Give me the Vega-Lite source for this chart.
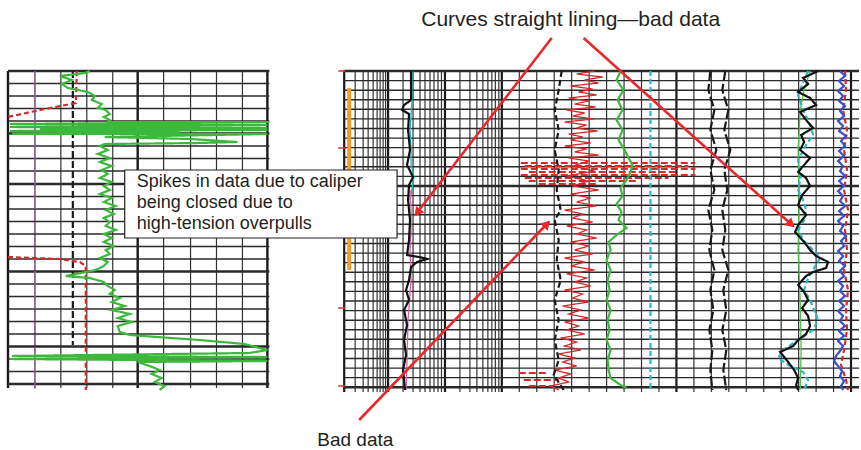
{
  "$schema": "https://vega.github.io/schema/vega-lite/v6.json",
  "width": 861,
  "height": 450,
  "padding": 0,
  "autosize": {"type": "fit", "contains": "padding"},
  "background": "white",
  "config": {"view": {"stroke": null}},
  "datasets": {
    "vlines": [
      {"panel": "L", "kind": "major", "x": 8}, {"panel": "L", "kind": "minor", "x": 35}, {"panel": "L", "kind": "minor", "x": 61}, {"panel": "L", "kind": "minor", "x": 87}, {"panel": "L", "kind": "minor", "x": 113}, {"panel": "L", "kind": "major", "x": 138}, {"panel": "L", "kind": "minor", "x": 164}, {"panel": "L", "kind": "minor", "x": 191}, {"panel": "L", "kind": "minor", "x": 217}, {"panel": "L", "kind": "minor", "x": 243}, {"panel": "L", "kind": "major", "x": 268},
      {"panel": "R", "kind": "major", "x": 345}, {"panel": "R", "kind": "minor", "x": 356}, {"panel": "R", "kind": "minor", "x": 364}, {"panel": "R", "kind": "minor", "x": 369}, {"panel": "R", "kind": "minor", "x": 374}, {"panel": "R", "kind": "minor", "x": 378}, {"panel": "R", "kind": "minor", "x": 381}, {"panel": "R", "kind": "minor", "x": 384}, {"panel": "R", "kind": "minor", "x": 386.5},
      {"panel": "R", "kind": "major", "x": 389}, {"panel": "R", "kind": "minor", "x": 404}, {"panel": "R", "kind": "minor", "x": 414}, {"panel": "R", "kind": "minor", "x": 421}, {"panel": "R", "kind": "minor", "x": 426}, {"panel": "R", "kind": "minor", "x": 431}, {"panel": "R", "kind": "minor", "x": 435}, {"panel": "R", "kind": "minor", "x": 439}, {"panel": "R", "kind": "minor", "x": 442.5},
      {"panel": "R", "kind": "major", "x": 446}, {"panel": "R", "kind": "minor", "x": 461}, {"panel": "R", "kind": "minor", "x": 471}, {"panel": "R", "kind": "minor", "x": 478}, {"panel": "R", "kind": "minor", "x": 484}, {"panel": "R", "kind": "minor", "x": 489}, {"panel": "R", "kind": "minor", "x": 493}, {"panel": "R", "kind": "minor", "x": 496.5}, {"panel": "R", "kind": "minor", "x": 500},
      {"panel": "R", "kind": "major", "x": 503}, {"panel": "R", "kind": "minor", "x": 520.5}, {"panel": "R", "kind": "minor", "x": 538}, {"panel": "R", "kind": "minor", "x": 555.5}, {"panel": "R", "kind": "minor", "x": 573}, {"panel": "R", "kind": "minor", "x": 590.5}, {"panel": "R", "kind": "minor", "x": 608}, {"panel": "R", "kind": "minor", "x": 625.5}, {"panel": "R", "kind": "minor", "x": 643}, {"panel": "R", "kind": "minor", "x": 660.5},
      {"panel": "R", "kind": "major", "x": 678}, {"panel": "R", "kind": "minor", "x": 695.5}, {"panel": "R", "kind": "minor", "x": 713}, {"panel": "R", "kind": "minor", "x": 730.5}, {"panel": "R", "kind": "minor", "x": 748}, {"panel": "R", "kind": "minor", "x": 765.5}, {"panel": "R", "kind": "minor", "x": 783}, {"panel": "R", "kind": "minor", "x": 800.5}, {"panel": "R", "kind": "minor", "x": 818}, {"panel": "R", "kind": "minor", "x": 835.5}, {"panel": "R", "kind": "major", "x": 853}
    ],
    "hlines": [
      {"panel": "L", "kind": "major", "y": 71}, {"panel": "L", "kind": "minor", "y": 83.5}, {"panel": "L", "kind": "minor", "y": 96}, {"panel": "L", "kind": "minor", "y": 108.5}, {"panel": "L", "kind": "minor", "y": 121}, {"panel": "L", "kind": "major", "y": 133.5}, {"panel": "L", "kind": "minor", "y": 146}, {"panel": "L", "kind": "minor", "y": 158.5}, {"panel": "L", "kind": "minor", "y": 171}, {"panel": "L", "kind": "major", "y": 184}, {"panel": "L", "kind": "minor", "y": 196.5}, {"panel": "L", "kind": "minor", "y": 209}, {"panel": "L", "kind": "minor", "y": 221.5}, {"panel": "L", "kind": "minor", "y": 234}, {"panel": "L", "kind": "minor", "y": 246.5}, {"panel": "L", "kind": "minor", "y": 259}, {"panel": "L", "kind": "major", "y": 271.5}, {"panel": "L", "kind": "minor", "y": 284}, {"panel": "L", "kind": "minor", "y": 296.5}, {"panel": "L", "kind": "minor", "y": 309}, {"panel": "L", "kind": "minor", "y": 321.5}, {"panel": "L", "kind": "minor", "y": 334}, {"panel": "L", "kind": "major", "y": 346.5}, {"panel": "L", "kind": "minor", "y": 359}, {"panel": "L", "kind": "minor", "y": 371.5}, {"panel": "L", "kind": "major", "y": 384},
      {"panel": "R", "kind": "major", "y": 71}, {"panel": "R", "kind": "minor", "y": 80.6}, {"panel": "R", "kind": "minor", "y": 90.2}, {"panel": "R", "kind": "minor", "y": 99.7}, {"panel": "R", "kind": "minor", "y": 109.3}, {"panel": "R", "kind": "minor", "y": 118.9}, {"panel": "R", "kind": "minor", "y": 128.5}, {"panel": "R", "kind": "minor", "y": 138.1}, {"panel": "R", "kind": "minor", "y": 147.6}, {"panel": "R", "kind": "minor", "y": 157.2}, {"panel": "R", "kind": "minor", "y": 166.8}, {"panel": "R", "kind": "minor", "y": 176.4}, {"panel": "R", "kind": "major", "y": 186}, {"panel": "R", "kind": "minor", "y": 195.6}, {"panel": "R", "kind": "minor", "y": 205.2}, {"panel": "R", "kind": "minor", "y": 214.7}, {"panel": "R", "kind": "minor", "y": 224.3}, {"panel": "R", "kind": "minor", "y": 233.9}, {"panel": "R", "kind": "minor", "y": 243.5}, {"panel": "R", "kind": "minor", "y": 253.1}, {"panel": "R", "kind": "minor", "y": 262.6}, {"panel": "R", "kind": "minor", "y": 272.2}, {"panel": "R", "kind": "minor", "y": 281.8}, {"panel": "R", "kind": "minor", "y": 291.4}, {"panel": "R", "kind": "minor", "y": 301}, {"panel": "R", "kind": "minor", "y": 310.6}, {"panel": "R", "kind": "minor", "y": 320.2}, {"panel": "R", "kind": "minor", "y": 329.7}, {"panel": "R", "kind": "minor", "y": 339.3}, {"panel": "R", "kind": "minor", "y": 348.9}, {"panel": "R", "kind": "minor", "y": 358.5}, {"panel": "R", "kind": "minor", "y": 368.1}, {"panel": "R", "kind": "minor", "y": 377.6}, {"panel": "R", "kind": "major", "y": 387.2}
    ],
    "curves": [
      {"c": "Lpurple", "x": 35, "y": 71}, {"c": "Lpurple", "x": 35, "y": 390},
      {"c": "Lblack", "x": 73, "y": 71}, {"c": "Lblack", "x": 73, "y": 345},
      {"c": "Lred1", "x": 77, "y": 71}, {"c": "Lred1", "x": 76, "y": 103}, {"c": "Lred1", "x": 40, "y": 110}, {"c": "Lred1", "x": 8, "y": 117},
      {"c": "Lred2", "x": 8, "y": 257}, {"c": "Lred2", "x": 60, "y": 259}, {"c": "Lred2", "x": 80, "y": 262}, {"c": "Lred2", "x": 86, "y": 266}, {"c": "Lred2", "x": 86, "y": 390},
      {"c": "Lgreen", "x": 90, "y": 71}, {"c": "Lgreen", "x": 85, "y": 73}, {"c": "Lgreen", "x": 60, "y": 76}, {"c": "Lgreen", "x": 72, "y": 80}, {"c": "Lgreen", "x": 62, "y": 84}, {"c": "Lgreen", "x": 68, "y": 88}, {"c": "Lgreen", "x": 88, "y": 92}, {"c": "Lgreen", "x": 95, "y": 96}, {"c": "Lgreen", "x": 92, "y": 100}, {"c": "Lgreen", "x": 102, "y": 104}, {"c": "Lgreen", "x": 98, "y": 108}, {"c": "Lgreen", "x": 106, "y": 110}, {"c": "Lgreen", "x": 110, "y": 114}, {"c": "Lgreen", "x": 104, "y": 117}, {"c": "Lgreen", "x": 110, "y": 120}, {"c": "Lgreen", "x": 108, "y": 122},
      {"c": "Lgreen", "x": 270, "y": 122}, {"c": "Lgreen", "x": 10, "y": 124}, {"c": "Lgreen", "x": 268, "y": 125}, {"c": "Lgreen", "x": 10, "y": 127}, {"c": "Lgreen", "x": 268, "y": 128}, {"c": "Lgreen", "x": 40, "y": 129}, {"c": "Lgreen", "x": 268, "y": 130}, {"c": "Lgreen", "x": 10, "y": 131}, {"c": "Lgreen", "x": 180, "y": 132}, {"c": "Lgreen", "x": 12, "y": 134}, {"c": "Lgreen", "x": 268, "y": 134}, {"c": "Lgreen", "x": 105, "y": 137}, {"c": "Lgreen", "x": 190, "y": 139}, {"c": "Lgreen", "x": 238, "y": 142}, {"c": "Lgreen", "x": 200, "y": 143}, {"c": "Lgreen", "x": 105, "y": 144},
      {"c": "Lgreen", "x": 100, "y": 146}, {"c": "Lgreen", "x": 108, "y": 150}, {"c": "Lgreen", "x": 98, "y": 154}, {"c": "Lgreen", "x": 110, "y": 158}, {"c": "Lgreen", "x": 100, "y": 162}, {"c": "Lgreen", "x": 112, "y": 166}, {"c": "Lgreen", "x": 102, "y": 170}, {"c": "Lgreen", "x": 108, "y": 174}, {"c": "Lgreen", "x": 100, "y": 178}, {"c": "Lgreen", "x": 112, "y": 182}, {"c": "Lgreen", "x": 104, "y": 186}, {"c": "Lgreen", "x": 110, "y": 190}, {"c": "Lgreen", "x": 100, "y": 194}, {"c": "Lgreen", "x": 112, "y": 198}, {"c": "Lgreen", "x": 104, "y": 202}, {"c": "Lgreen", "x": 116, "y": 206}, {"c": "Lgreen", "x": 106, "y": 210}, {"c": "Lgreen", "x": 114, "y": 214}, {"c": "Lgreen", "x": 104, "y": 218}, {"c": "Lgreen", "x": 110, "y": 222}, {"c": "Lgreen", "x": 106, "y": 226}, {"c": "Lgreen", "x": 116, "y": 230}, {"c": "Lgreen", "x": 104, "y": 234}, {"c": "Lgreen", "x": 112, "y": 238}, {"c": "Lgreen", "x": 104, "y": 242}, {"c": "Lgreen", "x": 114, "y": 246}, {"c": "Lgreen", "x": 106, "y": 250}, {"c": "Lgreen", "x": 110, "y": 254}, {"c": "Lgreen", "x": 100, "y": 258}, {"c": "Lgreen", "x": 108, "y": 262}, {"c": "Lgreen", "x": 104, "y": 266}, {"c": "Lgreen", "x": 96, "y": 270}, {"c": "Lgreen", "x": 66, "y": 276}, {"c": "Lgreen", "x": 90, "y": 278}, {"c": "Lgreen", "x": 104, "y": 282}, {"c": "Lgreen", "x": 108, "y": 286}, {"c": "Lgreen", "x": 115, "y": 290}, {"c": "Lgreen", "x": 110, "y": 294}, {"c": "Lgreen", "x": 120, "y": 298}, {"c": "Lgreen", "x": 112, "y": 302}, {"c": "Lgreen", "x": 125, "y": 306}, {"c": "Lgreen", "x": 112, "y": 310}, {"c": "Lgreen", "x": 130, "y": 314}, {"c": "Lgreen", "x": 118, "y": 318}, {"c": "Lgreen", "x": 132, "y": 322}, {"c": "Lgreen", "x": 118, "y": 326}, {"c": "Lgreen", "x": 120, "y": 332}, {"c": "Lgreen", "x": 130, "y": 335}, {"c": "Lgreen", "x": 200, "y": 340}, {"c": "Lgreen", "x": 245, "y": 344}, {"c": "Lgreen", "x": 268, "y": 350}, {"c": "Lgreen", "x": 250, "y": 353}, {"c": "Lgreen", "x": 12, "y": 356}, {"c": "Lgreen", "x": 268, "y": 357}, {"c": "Lgreen", "x": 10, "y": 359}, {"c": "Lgreen", "x": 268, "y": 361}, {"c": "Lgreen", "x": 138, "y": 362}, {"c": "Lgreen", "x": 150, "y": 366}, {"c": "Lgreen", "x": 160, "y": 370}, {"c": "Lgreen", "x": 152, "y": 374}, {"c": "Lgreen", "x": 162, "y": 378}, {"c": "Lgreen", "x": 155, "y": 382}, {"c": "Lgreen", "x": 165, "y": 386}, {"c": "Lgreen", "x": 160, "y": 390},
      {"c": "Rcal", "x": 412, "y": 71}, {"c": "Rcal", "x": 412, "y": 100}, {"c": "Rcal", "x": 405, "y": 105}, {"c": "Rcal", "x": 403, "y": 110}, {"c": "Rcal", "x": 410, "y": 114}, {"c": "Rcal", "x": 409, "y": 130}, {"c": "Rcal", "x": 411, "y": 150}, {"c": "Rcal", "x": 408, "y": 165}, {"c": "Rcal", "x": 414, "y": 177}, {"c": "Rcal", "x": 410, "y": 185}, {"c": "Rcal", "x": 409, "y": 200}, {"c": "Rcal", "x": 411, "y": 220}, {"c": "Rcal", "x": 410, "y": 240}, {"c": "Rcal", "x": 408, "y": 255}, {"c": "Rcal", "x": 420, "y": 257}, {"c": "Rcal", "x": 428, "y": 259}, {"c": "Rcal", "x": 418, "y": 262}, {"c": "Rcal", "x": 412, "y": 267}, {"c": "Rcal", "x": 410, "y": 280}, {"c": "Rcal", "x": 407, "y": 290}, {"c": "Rcal", "x": 410, "y": 300}, {"c": "Rcal", "x": 405, "y": 310}, {"c": "Rcal", "x": 408, "y": 325}, {"c": "Rcal", "x": 405, "y": 340}, {"c": "Rcal", "x": 407, "y": 355}, {"c": "Rcal", "x": 404, "y": 370}, {"c": "Rcal", "x": 406, "y": 390},
      {"c": "Rcalcyan", "x": 413, "y": 71}, {"c": "Rcalcyan", "x": 413, "y": 100}, {"c": "Rcalcyan", "x": 411, "y": 130}, {"c": "Rcalcyan", "x": 412, "y": 150}, {"c": "Rcalcyan", "x": 412, "y": 165}, {"c": "Rcalcyan", "x": 415, "y": 177}, {"c": "Rcalcyan", "x": 411, "y": 200},
      {"c": "Rcalpink", "x": 411, "y": 190}, {"c": "Rcalpink", "x": 412, "y": 210}, {"c": "Rcalpink", "x": 412, "y": 230}, {"c": "Rcalpink", "x": 411, "y": 250}, {"c": "Rcalpink", "x": 412, "y": 280}, {"c": "Rcalpink", "x": 409, "y": 320}, {"c": "Rcalpink", "x": 408, "y": 360}, {"c": "Rcalpink", "x": 407, "y": 390},
      {"c": "Rblack1", "x": 563, "y": 71}, {"c": "Rblack1", "x": 560, "y": 90}, {"c": "Rblack1", "x": 556, "y": 110}, {"c": "Rblack1", "x": 560, "y": 130}, {"c": "Rblack1", "x": 556, "y": 150}, {"c": "Rblack1", "x": 560, "y": 170}, {"c": "Rblack1", "x": 558, "y": 190}, {"c": "Rblack1", "x": 562, "y": 210}, {"c": "Rblack1", "x": 556, "y": 220}, {"c": "Rblack1", "x": 560, "y": 240}, {"c": "Rblack1", "x": 558, "y": 260}, {"c": "Rblack1", "x": 562, "y": 280}, {"c": "Rblack1", "x": 556, "y": 300}, {"c": "Rblack1", "x": 560, "y": 320}, {"c": "Rblack1", "x": 556, "y": 340}, {"c": "Rblack1", "x": 560, "y": 360}, {"c": "Rblack1", "x": 555, "y": 375}, {"c": "Rblack1", "x": 565, "y": 390},
      {"c": "Rred", "x": 596, "y": 71}, {"c": "Rred", "x": 578, "y": 74}, {"c": "Rred", "x": 604, "y": 77}, {"c": "Rred", "x": 586, "y": 80}, {"c": "Rred", "x": 600, "y": 83}, {"c": "Rred", "x": 572, "y": 86}, {"c": "Rred", "x": 594, "y": 89}, {"c": "Rred", "x": 580, "y": 92}, {"c": "Rred", "x": 598, "y": 95}, {"c": "Rred", "x": 570, "y": 98}, {"c": "Rred", "x": 590, "y": 101}, {"c": "Rred", "x": 576, "y": 104}, {"c": "Rred", "x": 597, "y": 107}, {"c": "Rred", "x": 568, "y": 110}, {"c": "Rred", "x": 586, "y": 113}, {"c": "Rred", "x": 574, "y": 116}, {"c": "Rred", "x": 595, "y": 119}, {"c": "Rred", "x": 566, "y": 122}, {"c": "Rred", "x": 588, "y": 125}, {"c": "Rred", "x": 578, "y": 128}, {"c": "Rred", "x": 599, "y": 131}, {"c": "Rred", "x": 570, "y": 134}, {"c": "Rred", "x": 584, "y": 137}, {"c": "Rred", "x": 572, "y": 140}, {"c": "Rred", "x": 592, "y": 143}, {"c": "Rred", "x": 566, "y": 146}, {"c": "Rred", "x": 588, "y": 149}, {"c": "Rred", "x": 576, "y": 152}, {"c": "Rred", "x": 600, "y": 155}, {"c": "Rred", "x": 570, "y": 158}, {"c": "Rred", "x": 590, "y": 161}, {"c": "Rred", "x": 574, "y": 166}, {"c": "Rred", "x": 596, "y": 171}, {"c": "Rred", "x": 568, "y": 176}, {"c": "Rred", "x": 590, "y": 181}, {"c": "Rred", "x": 574, "y": 186}, {"c": "Rred", "x": 600, "y": 190}, {"c": "Rred", "x": 572, "y": 194}, {"c": "Rred", "x": 592, "y": 198}, {"c": "Rred", "x": 578, "y": 202}, {"c": "Rred", "x": 598, "y": 206}, {"c": "Rred", "x": 566, "y": 210}, {"c": "Rred", "x": 584, "y": 214}, {"c": "Rred", "x": 574, "y": 218}, {"c": "Rred", "x": 594, "y": 222}, {"c": "Rred", "x": 568, "y": 226}, {"c": "Rred", "x": 588, "y": 230}, {"c": "Rred", "x": 578, "y": 234}, {"c": "Rred", "x": 598, "y": 238}, {"c": "Rred", "x": 572, "y": 242}, {"c": "Rred", "x": 590, "y": 246}, {"c": "Rred", "x": 576, "y": 250}, {"c": "Rred", "x": 594, "y": 254}, {"c": "Rred", "x": 566, "y": 258}, {"c": "Rred", "x": 586, "y": 262}, {"c": "Rred", "x": 572, "y": 266}, {"c": "Rred", "x": 596, "y": 270}, {"c": "Rred", "x": 568, "y": 274}, {"c": "Rred", "x": 588, "y": 278}, {"c": "Rred", "x": 576, "y": 282}, {"c": "Rred", "x": 592, "y": 286}, {"c": "Rred", "x": 566, "y": 290}, {"c": "Rred", "x": 584, "y": 294}, {"c": "Rred", "x": 574, "y": 298}, {"c": "Rred", "x": 590, "y": 302}, {"c": "Rred", "x": 564, "y": 306}, {"c": "Rred", "x": 582, "y": 310}, {"c": "Rred", "x": 570, "y": 314}, {"c": "Rred", "x": 590, "y": 318}, {"c": "Rred", "x": 566, "y": 322}, {"c": "Rred", "x": 580, "y": 326}, {"c": "Rred", "x": 568, "y": 330}, {"c": "Rred", "x": 586, "y": 334}, {"c": "Rred", "x": 562, "y": 338}, {"c": "Rred", "x": 578, "y": 342}, {"c": "Rred", "x": 566, "y": 346}, {"c": "Rred", "x": 582, "y": 350}, {"c": "Rred", "x": 560, "y": 354}, {"c": "Rred", "x": 576, "y": 358}, {"c": "Rred", "x": 564, "y": 362}, {"c": "Rred", "x": 578, "y": 366}, {"c": "Rred", "x": 556, "y": 370}, {"c": "Rred", "x": 572, "y": 374}, {"c": "Rred", "x": 560, "y": 378}, {"c": "Rred", "x": 570, "y": 382}, {"c": "Rred", "x": 552, "y": 386}, {"c": "Rred", "x": 560, "y": 390},
      {"c": "Rgreen", "x": 622, "y": 71}, {"c": "Rgreen", "x": 618, "y": 80}, {"c": "Rgreen", "x": 625, "y": 90}, {"c": "Rgreen", "x": 619, "y": 100}, {"c": "Rgreen", "x": 624, "y": 110}, {"c": "Rgreen", "x": 618, "y": 120}, {"c": "Rgreen", "x": 624, "y": 130}, {"c": "Rgreen", "x": 620, "y": 140}, {"c": "Rgreen", "x": 626, "y": 150}, {"c": "Rgreen", "x": 630, "y": 158}, {"c": "Rgreen", "x": 634, "y": 165}, {"c": "Rgreen", "x": 632, "y": 172}, {"c": "Rgreen", "x": 628, "y": 180}, {"c": "Rgreen", "x": 622, "y": 188}, {"c": "Rgreen", "x": 624, "y": 196}, {"c": "Rgreen", "x": 618, "y": 204}, {"c": "Rgreen", "x": 623, "y": 212}, {"c": "Rgreen", "x": 620, "y": 220}, {"c": "Rgreen", "x": 628, "y": 228}, {"c": "Rgreen", "x": 618, "y": 235}, {"c": "Rgreen", "x": 610, "y": 242}, {"c": "Rgreen", "x": 612, "y": 250}, {"c": "Rgreen", "x": 608, "y": 260}, {"c": "Rgreen", "x": 612, "y": 270}, {"c": "Rgreen", "x": 609, "y": 280}, {"c": "Rgreen", "x": 611, "y": 290}, {"c": "Rgreen", "x": 608, "y": 300}, {"c": "Rgreen", "x": 612, "y": 310}, {"c": "Rgreen", "x": 609, "y": 320}, {"c": "Rgreen", "x": 611, "y": 330}, {"c": "Rgreen", "x": 608, "y": 340}, {"c": "Rgreen", "x": 612, "y": 350}, {"c": "Rgreen", "x": 609, "y": 360}, {"c": "Rgreen", "x": 610, "y": 370}, {"c": "Rgreen", "x": 612, "y": 378}, {"c": "Rgreen", "x": 622, "y": 385}, {"c": "Rgreen", "x": 628, "y": 388},
      {"c": "Rcyan", "x": 652, "y": 71}, {"c": "Rcyan", "x": 652, "y": 390},
      {"c": "Rb1", "x": 712, "y": 71}, {"c": "Rb1", "x": 710, "y": 90}, {"c": "Rb1", "x": 716, "y": 110}, {"c": "Rb1", "x": 712, "y": 130}, {"c": "Rb1", "x": 718, "y": 150}, {"c": "Rb1", "x": 712, "y": 170}, {"c": "Rb1", "x": 716, "y": 190}, {"c": "Rb1", "x": 710, "y": 210}, {"c": "Rb1", "x": 714, "y": 230}, {"c": "Rb1", "x": 711, "y": 250}, {"c": "Rb1", "x": 716, "y": 270}, {"c": "Rb1", "x": 712, "y": 290}, {"c": "Rb1", "x": 715, "y": 310}, {"c": "Rb1", "x": 711, "y": 330}, {"c": "Rb1", "x": 714, "y": 350}, {"c": "Rb1", "x": 712, "y": 370}, {"c": "Rb1", "x": 714, "y": 390},
      {"c": "Rb2", "x": 727, "y": 71}, {"c": "Rb2", "x": 724, "y": 90}, {"c": "Rb2", "x": 730, "y": 110}, {"c": "Rb2", "x": 726, "y": 130}, {"c": "Rb2", "x": 732, "y": 150}, {"c": "Rb2", "x": 726, "y": 170}, {"c": "Rb2", "x": 729, "y": 190}, {"c": "Rb2", "x": 724, "y": 210}, {"c": "Rb2", "x": 727, "y": 230}, {"c": "Rb2", "x": 724, "y": 250}, {"c": "Rb2", "x": 730, "y": 270}, {"c": "Rb2", "x": 725, "y": 290}, {"c": "Rb2", "x": 728, "y": 310}, {"c": "Rb2", "x": 724, "y": 330}, {"c": "Rb2", "x": 728, "y": 350}, {"c": "Rb2", "x": 725, "y": 370}, {"c": "Rb2", "x": 728, "y": 390},
      {"c": "Rgreen2", "x": 812, "y": 71}, {"c": "Rgreen2", "x": 806, "y": 90}, {"c": "Rgreen2", "x": 802, "y": 110}, {"c": "Rgreen2", "x": 800, "y": 150}, {"c": "Rgreen2", "x": 801, "y": 200}, {"c": "Rgreen2", "x": 800, "y": 250}, {"c": "Rgreen2", "x": 802, "y": 300}, {"c": "Rgreen2", "x": 803, "y": 350}, {"c": "Rgreen2", "x": 802, "y": 390},
      {"c": "Rspikycyan", "x": 810, "y": 71}, {"c": "Rspikycyan", "x": 806, "y": 80}, {"c": "Rspikycyan", "x": 800, "y": 95}, {"c": "Rspikycyan", "x": 805, "y": 110}, {"c": "Rspikycyan", "x": 812, "y": 125}, {"c": "Rspikycyan", "x": 815, "y": 135}, {"c": "Rspikycyan", "x": 808, "y": 145}, {"c": "Rspikycyan", "x": 800, "y": 160}, {"c": "Rspikycyan", "x": 803, "y": 175}, {"c": "Rspikycyan", "x": 800, "y": 190}, {"c": "Rspikycyan", "x": 805, "y": 200}, {"c": "Rspikycyan", "x": 808, "y": 210}, {"c": "Rspikycyan", "x": 806, "y": 220}, {"c": "Rspikycyan", "x": 800, "y": 230}, {"c": "Rspikycyan", "x": 805, "y": 240}, {"c": "Rspikycyan", "x": 815, "y": 250}, {"c": "Rspikycyan", "x": 822, "y": 258}, {"c": "Rspikycyan", "x": 816, "y": 268}, {"c": "Rspikycyan", "x": 810, "y": 278}, {"c": "Rspikycyan", "x": 806, "y": 290}, {"c": "Rspikycyan", "x": 812, "y": 300}, {"c": "Rspikycyan", "x": 816, "y": 310}, {"c": "Rspikycyan", "x": 820, "y": 320}, {"c": "Rspikycyan", "x": 815, "y": 330}, {"c": "Rspikycyan", "x": 800, "y": 340}, {"c": "Rspikycyan", "x": 785, "y": 350}, {"c": "Rspikycyan", "x": 780, "y": 358}, {"c": "Rspikycyan", "x": 790, "y": 365}, {"c": "Rspikycyan", "x": 805, "y": 372}, {"c": "Rspikycyan", "x": 810, "y": 380}, {"c": "Rspikycyan", "x": 806, "y": 390},
      {"c": "Rspiky", "x": 820, "y": 71}, {"c": "Rspiky", "x": 805, "y": 78}, {"c": "Rspiky", "x": 810, "y": 84}, {"c": "Rspiky", "x": 800, "y": 92}, {"c": "Rspiky", "x": 812, "y": 98}, {"c": "Rspiky", "x": 818, "y": 105}, {"c": "Rspiky", "x": 802, "y": 112}, {"c": "Rspiky", "x": 808, "y": 120}, {"c": "Rspiky", "x": 815, "y": 128}, {"c": "Rspiky", "x": 803, "y": 135}, {"c": "Rspiky", "x": 806, "y": 142}, {"c": "Rspiky", "x": 802, "y": 150}, {"c": "Rspiky", "x": 812, "y": 158}, {"c": "Rspiky", "x": 806, "y": 165}, {"c": "Rspiky", "x": 800, "y": 172}, {"c": "Rspiky", "x": 808, "y": 178}, {"c": "Rspiky", "x": 812, "y": 186}, {"c": "Rspiky", "x": 804, "y": 195}, {"c": "Rspiky", "x": 800, "y": 205}, {"c": "Rspiky", "x": 808, "y": 215}, {"c": "Rspiky", "x": 800, "y": 225}, {"c": "Rspiky", "x": 797, "y": 232}, {"c": "Rspiky", "x": 806, "y": 242}, {"c": "Rspiky", "x": 812, "y": 250}, {"c": "Rspiky", "x": 818, "y": 256}, {"c": "Rspiky", "x": 830, "y": 262}, {"c": "Rspiky", "x": 828, "y": 268}, {"c": "Rspiky", "x": 815, "y": 272}, {"c": "Rspiky", "x": 808, "y": 276}, {"c": "Rspiky", "x": 800, "y": 285}, {"c": "Rspiky", "x": 806, "y": 292}, {"c": "Rspiky", "x": 810, "y": 300}, {"c": "Rspiky", "x": 804, "y": 308}, {"c": "Rspiky", "x": 810, "y": 316}, {"c": "Rspiky", "x": 812, "y": 326}, {"c": "Rspiky", "x": 808, "y": 334}, {"c": "Rspiky", "x": 800, "y": 340}, {"c": "Rspiky", "x": 795, "y": 346}, {"c": "Rspiky", "x": 782, "y": 352}, {"c": "Rspiky", "x": 790, "y": 362}, {"c": "Rspiky", "x": 796, "y": 370}, {"c": "Rspiky", "x": 800, "y": 378}, {"c": "Rspiky", "x": 798, "y": 385}, {"c": "Rspiky", "x": 800, "y": 390},
      {"c": "Rred2", "x": 847, "y": 71}, {"c": "Rred2", "x": 848, "y": 90}, {"c": "Rred2", "x": 845, "y": 110}, {"c": "Rred2", "x": 849, "y": 130}, {"c": "Rred2", "x": 846, "y": 150}, {"c": "Rred2", "x": 849, "y": 170}, {"c": "Rred2", "x": 846, "y": 190}, {"c": "Rred2", "x": 850, "y": 210}, {"c": "Rred2", "x": 847, "y": 230}, {"c": "Rred2", "x": 849, "y": 250}, {"c": "Rred2", "x": 846, "y": 270}, {"c": "Rred2", "x": 850, "y": 290}, {"c": "Rred2", "x": 848, "y": 310}, {"c": "Rred2", "x": 849, "y": 330}, {"c": "Rred2", "x": 846, "y": 350}, {"c": "Rred2", "x": 843, "y": 365}, {"c": "Rred2", "x": 848, "y": 380}, {"c": "Rred2", "x": 850, "y": 390},
      {"c": "Rblue", "x": 842, "y": 71}, {"c": "Rblue", "x": 847, "y": 76}, {"c": "Rblue", "x": 841, "y": 81}, {"c": "Rblue", "x": 846, "y": 86}, {"c": "Rblue", "x": 840, "y": 91}, {"c": "Rblue", "x": 845, "y": 96}, {"c": "Rblue", "x": 841, "y": 101}, {"c": "Rblue", "x": 847, "y": 106}, {"c": "Rblue", "x": 842, "y": 111}, {"c": "Rblue", "x": 846, "y": 116}, {"c": "Rblue", "x": 840, "y": 121}, {"c": "Rblue", "x": 845, "y": 126}, {"c": "Rblue", "x": 841, "y": 131}, {"c": "Rblue", "x": 848, "y": 136}, {"c": "Rblue", "x": 843, "y": 141}, {"c": "Rblue", "x": 847, "y": 146}, {"c": "Rblue", "x": 841, "y": 151}, {"c": "Rblue", "x": 846, "y": 156}, {"c": "Rblue", "x": 840, "y": 161}, {"c": "Rblue", "x": 845, "y": 166}, {"c": "Rblue", "x": 842, "y": 171}, {"c": "Rblue", "x": 847, "y": 176}, {"c": "Rblue", "x": 841, "y": 181}, {"c": "Rblue", "x": 846, "y": 186}, {"c": "Rblue", "x": 840, "y": 191}, {"c": "Rblue", "x": 845, "y": 196}, {"c": "Rblue", "x": 842, "y": 201}, {"c": "Rblue", "x": 847, "y": 206}, {"c": "Rblue", "x": 841, "y": 211}, {"c": "Rblue", "x": 846, "y": 216}, {"c": "Rblue", "x": 840, "y": 221}, {"c": "Rblue", "x": 845, "y": 226}, {"c": "Rblue", "x": 842, "y": 231}, {"c": "Rblue", "x": 848, "y": 236}, {"c": "Rblue", "x": 843, "y": 241}, {"c": "Rblue", "x": 846, "y": 246}, {"c": "Rblue", "x": 840, "y": 251}, {"c": "Rblue", "x": 845, "y": 256}, {"c": "Rblue", "x": 841, "y": 261}, {"c": "Rblue", "x": 847, "y": 266}, {"c": "Rblue", "x": 842, "y": 271}, {"c": "Rblue", "x": 846, "y": 276}, {"c": "Rblue", "x": 840, "y": 281}, {"c": "Rblue", "x": 845, "y": 286}, {"c": "Rblue", "x": 842, "y": 291}, {"c": "Rblue", "x": 847, "y": 296}, {"c": "Rblue", "x": 841, "y": 301}, {"c": "Rblue", "x": 846, "y": 306}, {"c": "Rblue", "x": 840, "y": 311}, {"c": "Rblue", "x": 845, "y": 316}, {"c": "Rblue", "x": 842, "y": 321}, {"c": "Rblue", "x": 847, "y": 326}, {"c": "Rblue", "x": 841, "y": 331}, {"c": "Rblue", "x": 846, "y": 336}, {"c": "Rblue", "x": 840, "y": 341}, {"c": "Rblue", "x": 845, "y": 346}, {"c": "Rblue", "x": 842, "y": 351}, {"c": "Rblue", "x": 838, "y": 356}, {"c": "Rblue", "x": 836, "y": 361}, {"c": "Rblue", "x": 840, "y": 366}, {"c": "Rblue", "x": 844, "y": 371}, {"c": "Rblue", "x": 842, "y": 376}, {"c": "Rblue", "x": 846, "y": 381}, {"c": "Rblue", "x": 843, "y": 386}, {"c": "Rblue", "x": 845, "y": 390}
    ],
    "streaks": [
      {"x": 522, "x2": 697, "y": 163}, {"x": 526, "x2": 690, "y": 166}, {"x": 522, "x2": 697, "y": 169}, {"x": 530, "x2": 680, "y": 172}, {"x": 522, "x2": 697, "y": 175}, {"x": 526, "x2": 670, "y": 178}, {"x": 530, "x2": 640, "y": 181}, {"x": 540, "x2": 600, "y": 184},
      {"x": 520, "x2": 548, "y": 373}, {"x": 525, "x2": 560, "y": 380}, {"x": 530, "x2": 555, "y": 386}
    ],
    "depthticks": [{"y": 71}, {"y": 148}, {"y": 228}, {"y": 308}, {"y": 386}],
    "orange": [{"x": 350, "y": 88, "y2": 270}],
    "box": [{"x": 125, "x2": 398, "y": 170, "y2": 238}],
    "arrows": [
      {"a": "A1", "x": 553, "y": 38, "x2": 417, "y2": 214, "hx": 419.3, "hy": 211.5},
      {"a": "A2", "x": 585, "y": 38, "x2": 795, "y2": 226, "hx": 791.8, "hy": 223.3},
      {"a": "A3", "x": 360, "y": 420, "x2": 550, "y2": 222, "hx": 547.2, "hy": 225}
    ],
    "labels": [
      {"id": "title", "text": "Curves straight lining—bad data", "x": 572, "y": 26},
      {"id": "box", "text": "Spikes in data due to caliper", "x": 137, "y": 187},
      {"id": "box", "text": "being closed due to", "x": 137, "y": 208},
      {"id": "box", "text": "high-tension overpulls", "x": 137, "y": 229},
      {"id": "bad", "text": "Bad data", "x": 318, "y": 446}
    ]
  },
  "encoding": {},
  "resolve": {"scale": {"color": "shared", "strokeDash": "shared"}},
  "layer": [
    {
      "data": {"name": "vlines"},
      "transform": [{"filter": "datum.panel == 'L' && datum.kind == 'minor'"}],
      "mark": {"type": "rule", "color": "#333333", "strokeWidth": 1.2},
      "encoding": {
        "x": {"field": "x", "type": "quantitative", "scale": {"domain": [0, 861], "nice": false, "zero": false}, "axis": null},
        "y": {"datum": 71, "type": "quantitative", "scale": {"domain": [0, 450], "nice": false, "zero": false, "reverse": true}, "axis": null},
        "y2": {"datum": 388}
      }
    },
    {
      "data": {"name": "vlines"},
      "transform": [{"filter": "datum.panel == 'L' && datum.kind == 'major'"}],
      "mark": {"type": "rule", "color": "#1a1a1a", "strokeWidth": 2.4},
      "encoding": {
        "x": {"field": "x", "type": "quantitative"},
        "y": {"datum": 71, "type": "quantitative"},
        "y2": {"datum": 388}
      }
    },
    {
      "data": {"name": "vlines"},
      "transform": [{"filter": "datum.panel == 'R' && datum.kind == 'minor'"}],
      "mark": {"type": "rule", "color": "#333333", "strokeWidth": 1.2},
      "encoding": {
        "x": {"field": "x", "type": "quantitative"},
        "y": {"datum": 71, "type": "quantitative"},
        "y2": {"datum": 392}
      }
    },
    {
      "data": {"name": "vlines"},
      "transform": [{"filter": "datum.panel == 'R' && datum.kind == 'major'"}],
      "mark": {"type": "rule", "color": "#1a1a1a", "strokeWidth": 2.2},
      "encoding": {
        "x": {"field": "x", "type": "quantitative"},
        "y": {"datum": 71, "type": "quantitative"},
        "y2": {"datum": 392}
      }
    },
    {
      "data": {"name": "hlines"},
      "transform": [{"filter": "datum.panel == 'L'"}],
      "mark": {"type": "rule", "color": "#2a2a2a"},
      "encoding": {
        "y": {"field": "y", "type": "quantitative"},
        "x": {"datum": 8, "type": "quantitative"},
        "x2": {"datum": 270},
        "strokeWidth": {"condition": {"test": "datum.kind == 'major'", "value": 2.4}, "value": 1.4}
      }
    },
    {
      "data": {"name": "hlines"},
      "transform": [{"filter": "datum.panel == 'R'"}],
      "mark": {"type": "rule", "color": "#2a2a2a"},
      "encoding": {
        "y": {"field": "y", "type": "quantitative"},
        "x": {"datum": 345, "type": "quantitative"},
        "x2": {"datum": 861},
        "strokeWidth": {"condition": {"test": "datum.kind == 'major'", "value": 2.4}, "value": 1.4}
      }
    },
    {
      "data": {"name": "depthticks"},
      "mark": {"type": "rule", "color": "#e0302a", "strokeWidth": 1.5},
      "encoding": {
        "y": {"field": "y", "type": "quantitative"},
        "x": {"datum": 339, "type": "quantitative"},
        "x2": {"datum": 346}
      }
    },
    {
      "data": {"name": "orange"},
      "mark": {"type": "rule", "color": "#f29a2e", "strokeWidth": 4},
      "encoding": {
        "x": {"field": "x", "type": "quantitative"},
        "y": {"field": "y", "type": "quantitative"},
        "y2": {"field": "y2"}
      }
    },
    {
      "data": {"name": "streaks"},
      "mark": {"type": "rule", "color": "#d42a2a", "strokeWidth": 2, "strokeDash": [7, 3]},
      "encoding": {
        "x": {"field": "x", "type": "quantitative"},
        "x2": {"field": "x2"},
        "y": {"field": "y", "type": "quantitative"}
      }
    },
    {
      "data": {"name": "curves"},
      "transform": [{"filter": "indexof(['Lpurple','Rcalcyan','Rcalpink','Rred','Rgreen2'], datum.c) >= 0"}],
      "mark": {"type": "line", "strokeWidth": 1.3},
      "encoding": {
        "x": {"field": "x", "type": "quantitative"},
        "y": {"field": "y", "type": "quantitative"},
        "detail": {"field": "c"},
        "order": {"value": null},
        "color": {"field": "c", "type": "nominal", "legend": null, "scale": {"domain": ["Lpurple","Lblack","Lred1","Lred2","Lgreen","Rcal","Rcalcyan","Rcalpink","Rblack1","Rred","Rgreen","Rcyan","Rb1","Rb2","Rgreen2","Rspiky","Rspikycyan","Rblue","Rred2"], "range": ["#b05cc8","#1a1a1a","#d42a2a","#d42a2a","#3cb93c","#111111","#1fb5c0","#e060b0","#1a1a1a","#d42a2a","#3cb93c","#2bb6c9","#1a1a1a","#1a1a1a","#4cc04c","#111111","#2bb6c9","#3a4fc8","#d42a2a"]}},
        "strokeDash": {"field": "c", "type": "nominal", "legend": null, "scale": {"domain": ["Lpurple","Lblack","Lred1","Lred2","Lgreen","Rcal","Rcalcyan","Rcalpink","Rblack1","Rred","Rgreen","Rcyan","Rb1","Rb2","Rgreen2","Rspiky","Rspikycyan","Rblue","Rred2"], "range": [[6,2,2,2],[7,3],[5,3],[5,3],[1,0],[1,0],[1,0],[1,0],[6,3],[1,0],[1,0],[5,3],[10,3],[10,3],[1,0],[1,0],[5,3],[1,0],[5,3]]}}
      }
    },
    {
      "data": {"name": "curves"},
      "transform": [{"filter": "indexof(['Lpurple','Rcalcyan','Rcalpink','Rred','Rgreen2'], datum.c) < 0"}],
      "mark": {"type": "line", "strokeWidth": 2.2},
      "encoding": {
        "x": {"field": "x", "type": "quantitative"},
        "y": {"field": "y", "type": "quantitative"},
        "detail": {"field": "c"},
        "order": {"value": null},
        "color": {"field": "c", "type": "nominal", "legend": null},
        "strokeDash": {"field": "c", "type": "nominal", "legend": null}
      }
    },
    {
      "data": {"name": "box"},
      "mark": {"type": "rect", "fill": "white", "stroke": "#222222", "strokeWidth": 1.2},
      "encoding": {
        "x": {"field": "x", "type": "quantitative"},
        "x2": {"field": "x2"},
        "y": {"field": "y", "type": "quantitative"},
        "y2": {"field": "y2"}
      }
    },
    {
      "data": {"name": "arrows"},
      "mark": {"type": "rule", "color": "#e8282b", "strokeWidth": 2.6},
      "encoding": {
        "x": {"field": "x", "type": "quantitative"},
        "y": {"field": "y", "type": "quantitative"},
        "x2": {"field": "x2"},
        "y2": {"field": "y2"}
      }
    },
    {
      "data": {"name": "arrows"},
      "transform": [{"filter": "datum.a == 'A1'"}],
      "mark": {"type": "point", "shape": "triangle", "filled": true, "color": "#e8282b", "size": 110, "angle": 217.7, "opacity": 1},
      "encoding": {"x": {"field": "hx", "type": "quantitative"}, "y": {"field": "hy", "type": "quantitative"}}
    },
    {
      "data": {"name": "arrows"},
      "transform": [{"filter": "datum.a == 'A2'"}],
      "mark": {"type": "point", "shape": "triangle", "filled": true, "color": "#e8282b", "size": 110, "angle": 131.8, "opacity": 1},
      "encoding": {"x": {"field": "hx", "type": "quantitative"}, "y": {"field": "hy", "type": "quantitative"}}
    },
    {
      "data": {"name": "arrows"},
      "transform": [{"filter": "datum.a == 'A3'"}],
      "mark": {"type": "point", "shape": "triangle", "filled": true, "color": "#e8282b", "size": 110, "angle": 43.8, "opacity": 1},
      "encoding": {"x": {"field": "hx", "type": "quantitative"}, "y": {"field": "hy", "type": "quantitative"}}
    },
    {
      "data": {"name": "labels"},
      "transform": [{"filter": "datum.id == 'title'"}],
      "mark": {"type": "text", "font": "Liberation Sans", "fontSize": 21, "align": "center", "baseline": "alphabetic", "color": "#231f20"},
      "encoding": {"x": {"field": "x", "type": "quantitative"}, "y": {"field": "y", "type": "quantitative"}, "text": {"field": "text"}}
    },
    {
      "data": {"name": "labels"},
      "transform": [{"filter": "datum.id == 'box'"}],
      "mark": {"type": "text", "font": "Liberation Sans", "fontSize": 18, "align": "left", "baseline": "alphabetic", "color": "#231f20"},
      "encoding": {"x": {"field": "x", "type": "quantitative"}, "y": {"field": "y", "type": "quantitative"}, "text": {"field": "text"}}
    },
    {
      "data": {"name": "labels"},
      "transform": [{"filter": "datum.id == 'bad'"}],
      "mark": {"type": "text", "font": "Liberation Sans", "fontSize": 19, "align": "left", "baseline": "alphabetic", "color": "#231f20"},
      "encoding": {"x": {"field": "x", "type": "quantitative"}, "y": {"field": "y", "type": "quantitative"}, "text": {"field": "text"}}
    }
  ]
}
